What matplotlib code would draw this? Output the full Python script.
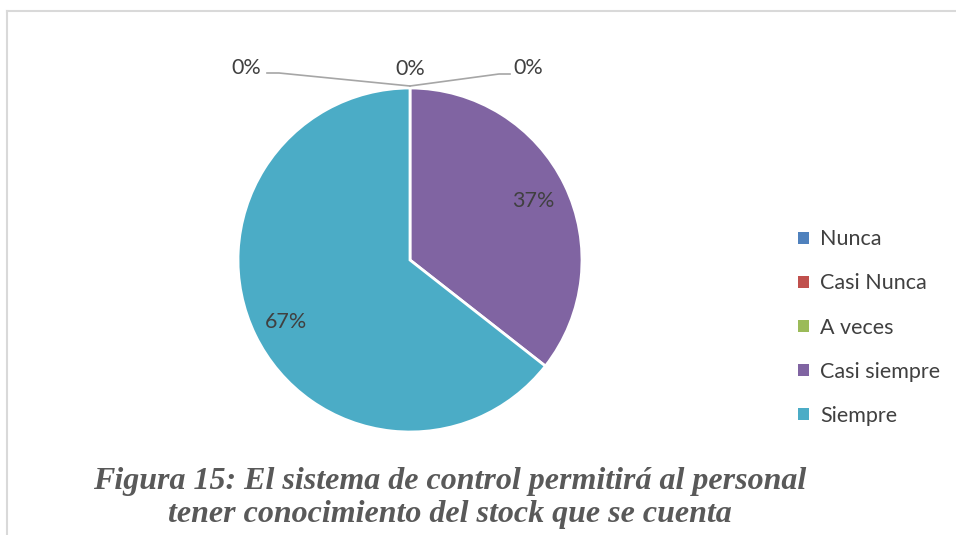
import numpy as np
import matplotlib
matplotlib.use('Agg')
import matplotlib.pyplot as plt
from matplotlib.lines import Line2D

# data
categories = ['Nunca', 'Casi Nunca', 'A veces', 'Casi siempre', 'Siempre']
values = [0, 0, 0, 37, 67]
pct_labels = ['0%', '0%', '0%', '37%', '67%']
colors = ['#4F81BD', '#C0504D', '#9BBB59', '#8064A2', '#4BACC6']
caption = ('Figura 15: El sistema de control permitirá al personal\n'
           'tener conocimiento del stock que se cuenta')

W, H = 956, 535
fig = plt.figure(figsize=(W/100., H/100.), dpi=100)
fig.patch.set_facecolor('white')

# pie centre (410, 260) px, radius 172 px
cx, cy, R = 410., 260., 172.
left, right, top, bot = 210., 610., 40., 480.
ax = fig.add_axes([left/W, (H-bot)/H, (right-left)/W, (bot-top)/H])

wedges, _ = ax.pie(values, colors=colors, startangle=90, counterclock=False,
                   wedgeprops=dict(edgecolor='white', linewidth=2))
ax.set_aspect('auto')
ax.set_xlim(-(cx-left)/R, (right-cx)/R)
ax.set_ylim(-(bot-cy)/R, (cy-top)/R)
ax.axis('off')

txt_kw = dict(fontsize=15.5, color='#404040', family='Lato',
              ha='center', va='center')

# labels for non-zero slices
for w, v, lab in zip(wedges, values, pct_labels):
    if v == 0:
        continue
    mid = np.deg2rad((w.theta1 + w.theta2) / 2.)
    ax.text(0.80*np.cos(mid), 0.80*np.sin(mid) - 0.01, lab, **txt_kw)

# zero slices: labels above the top with leader lines
p = lambda x, y: ((x-cx)/R, (cy-y)/R)
zero_pos = [(246, 68), (410, 69), (528, 68)]
for (x, y), lab in zip(zero_pos, pct_labels[:3]):
    ax.text(*p(x, y), lab, **txt_kw)
lines = [[(267, 73), (279, 73), (410, 86)],
         [(410, 86), (499, 74), (510, 74)]]
for ln in lines:
    pts = np.array([p(x, y) for x, y in ln])
    ax.plot(pts[:, 0], pts[:, 1], color='#A6A6A6', lw=1.2, clip_on=False)

leg = fig.legend(wedges, categories, loc='upper left',
                 bbox_to_anchor=(779/W, 1-210/H), frameon=False,
                 handlelength=0.5, handleheight=0.5, handletextpad=0.5,
                 labelspacing=1.12, prop=dict(family='Lato', size=15.5))
for t in leg.get_texts():
    t.set_color('#404040')
for h in leg.legend_handles:
    h.set_edgecolor('none')

fig.text(450/W, 1-498/H, caption, ha='center', va='center',
         family='Liberation Serif', style='italic', weight='bold',
         fontsize=23, color='#595959', linespacing=1.17)

# chart area border (left and top only visible)
fig.add_artist(Line2D([6.5/W, 6.5/W], [0, 1-11/H], color='#D9D9D9', lw=1.5))
fig.add_artist(Line2D([6.5/W, 1], [1-11/H, 1-11/H], color='#D9D9D9', lw=1.5))

fig.savefig('out.png', dpi=100)
